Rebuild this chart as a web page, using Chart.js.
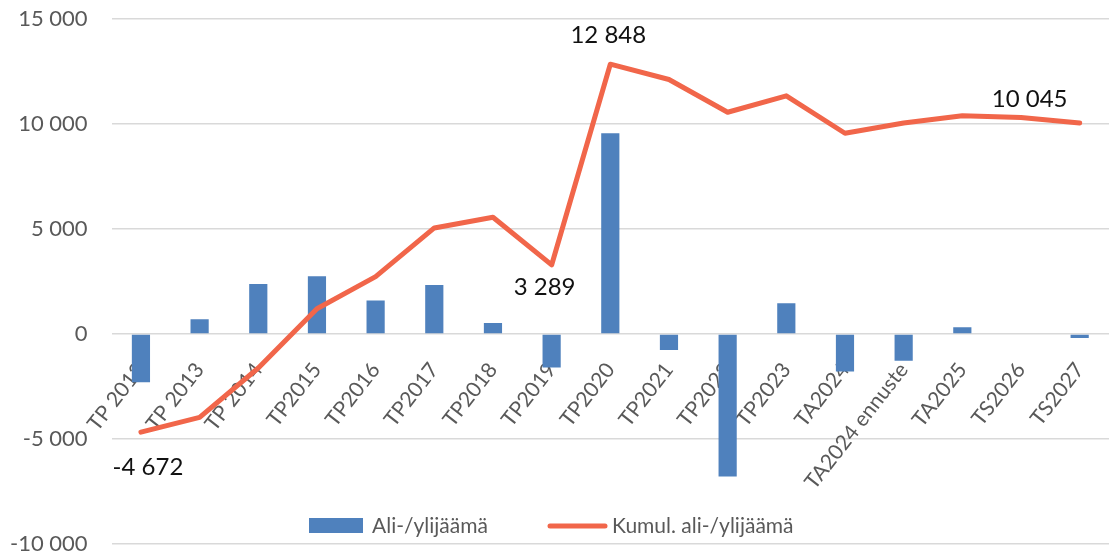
<!DOCTYPE html>
<html lang="fi">
<head>
<meta charset="UTF-8">
<title>Ali-/ylijäämä</title>
<script src="https://cdn.jsdelivr.net/npm/chart.js"></script>
<style>
  html, body { margin: 0; padding: 0; background: #fff; }
  #wrap { width: 1109px; height: 557px; position: relative; }
</style>
</head>
<body>
<div id="wrap"><canvas id="chart"></canvas></div>
<script>
// kategoriat
const categories = ['TP 2012', 'TP 2013', 'TP 2014', 'TP2015', 'TP2016', 'TP2017', 'TP2018', 'TP2019',
  'TP2020', 'TP2021', 'TP2022', 'TP2023', 'TA2024', 'TA2024 ennuste', 'TA2025', 'TS2026', 'TS2027'];

// vuosittainen ali-/ylijäämä (pylväät)
const surplus = [-2300, 700, 2380, 2750, 1590, 2330, 520, -1590, 9560, -760, -6780, 1460, -1780, -1270, 320, 0, -190];

// kumulatiivinen ali-/ylijäämä (viiva)
const cumulative = [-4672, -3970, -1620, 1200, 2730, 5050, 5560, 3289, 12848, 12120, 10560, 11340, 9560, 10050, 10390, 10310, 10045];

// arvot jotka näytetään kuvassa
const labelIdx = [0, 7, 8, 16];

const fmt = v => {
  const s = Math.abs(v).toString().replace(/\B(?=(\d{3})+(?!\d))/g, ' ');
  return (v < 0 ? '-' : '') + s;
};

const GREY = '#595959';
const BLUE = '#4F81BD';
const ORANGE = '#F1664A';
const FONT = 'Lato, "Noto Sans", sans-serif';

// datalabelit viivalle
const lineLabels = {
  id: 'lineLabels',
  afterDatasetsDraw(chart) {
    const meta = chart.getDatasetMeta(1);
    const ctx = chart.ctx;
    const offs = { 0: [7, 35], 7: [-7, 22], 8: [-2, -29], 16: [-50, -24] };
    ctx.save();
    ctx.font = '24px ' + FONT;
    ctx.fillStyle = '#111';
    ctx.textAlign = 'center';
    ctx.textBaseline = 'middle';
    labelIdx.forEach(i => {
      const p = meta.data[i];
      ctx.fillText(fmt(cumulative[i]), p.x + offs[i][0], p.y + offs[i][1]);
    });
    ctx.restore();
  }
};

// selite piirretään kuva-alueen sisään
const innerLegend = {
  id: 'innerLegend',
  afterDraw(chart) {
    const ctx = chart.ctx;
    const ds = chart.data.datasets;
    const y = 526;
    ctx.save();
    ctx.font = '21px ' + FONT;
    ctx.textBaseline = 'middle';
    // pylväs
    ctx.fillStyle = ds[0].backgroundColor;
    ctx.fillRect(309, y - 8, 54, 15);
    ctx.fillStyle = GREY;
    ctx.fillText(ds[0].label, 372, y);
    // viiva
    ctx.strokeStyle = ds[1].borderColor;
    ctx.lineWidth = 5;
    ctx.lineCap = 'round';
    ctx.beginPath();
    ctx.moveTo(550, y);
    ctx.lineTo(605, y);
    ctx.stroke();
    ctx.fillText(ds[1].label, 612, y);
    ctx.restore();
  }
};

new Chart(document.getElementById('chart'), {
  data: {
    labels: categories,
    datasets: [
      {
        type: 'bar',
        label: 'Ali-/ylijäämä',
        data: surplus,
        backgroundColor: BLUE,
        barPercentage: 0.62,
        categoryPercentage: 0.5,
        order: 2
      },
      {
        type: 'line',
        label: 'Kumul. ali-/ylijäämä',
        data: cumulative,
        borderColor: ORANGE,
        backgroundColor: ORANGE,
        borderWidth: 5,
        pointRadius: 0,
        tension: 0,
        borderJoinStyle: 'round',
        borderCapStyle: 'round',
        order: 1
      }
    ]
  },
  options: {
    responsive: true,
    maintainAspectRatio: false,
    animation: false,
    layout: { padding: { top: 19, right: -4, bottom: 13, left: -14 } },
    plugins: {
      legend: { display: false },
      tooltip: { enabled: false }
    },
    scales: {
      x: {
        position: { y: 0 },
        grid: { display: false },
        border: { display: false },
        afterFit: s => {
          s.height = 0;
          s.paddingLeft = 0;
          s.paddingRight = 0;
          s.paddingTop = 0;
          s.paddingBottom = 0;
        },
        ticks: {
          color: GREY,
          font: { family: FONT, size: 21 },
          minRotation: 52,
          maxRotation: 52,
          padding: 16,
          autoSkip: false
        }
      },
      y: {
        min: -10000,
        max: 15000,
        border: { display: false },
        grid: { color: '#D9D9D9', lineWidth: 1.6, drawTicks: false },
        afterFit: s => {
          s.paddingTop = 0;
          s.paddingBottom = 0;
        },
        ticks: {
          stepSize: 5000,
          color: GREY,
          padding: 24,
          font: { family: FONT, size: 22 },
          callback: v => fmt(v)
        }
      }
    }
  },
  plugins: [lineLabels, innerLegend]
});
</script>
</body>
</html>
